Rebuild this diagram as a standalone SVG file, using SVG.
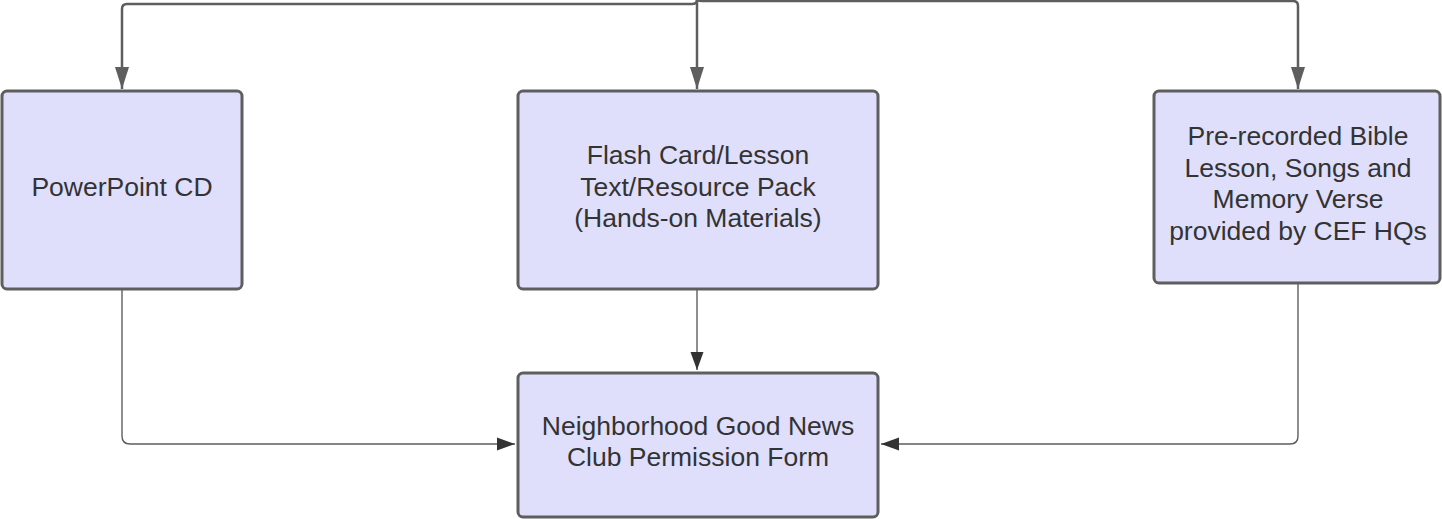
<svg xmlns="http://www.w3.org/2000/svg" width="1442" height="519" viewBox="0 0 1442 519">
<defs>
<style>
.box{fill:#dfdffc;stroke:#5e5e5e;stroke-width:3}
.lbl{font-family:"Liberation Sans",Arial,sans-serif;font-size:26.5px;fill:#333333;text-anchor:middle}
.thick{fill:none;stroke:#5e5e5e;stroke-width:2.5}
.thin{fill:none;stroke:#5e5e5e;stroke-width:1.4}
</style>
<marker id="ah1" markerUnits="userSpaceOnUse" viewBox="0 0 22 16" refX="22" refY="8" markerWidth="22" markerHeight="16" orient="auto"><path d="M0,1 L22,8 L0,15 Z" fill="#5e5e5e"/></marker>
<marker id="ah2" markerUnits="userSpaceOnUse" viewBox="0 0 18 14" refX="18" refY="7" markerWidth="18" markerHeight="14" orient="auto"><path d="M0,0.5 L18,7 L0,13.5 Z" fill="#333333"/></marker>
</defs>
<rect width="1442" height="519" fill="#ffffff"/>
<g id="connectors">
<path class="thick" d="M697,0 Q697,4 692,4 L127,4 Q122,4 122,9 L122,89" marker-end="url(#ah1)"/>
<path class="thick" d="M697,0 L697,89" marker-end="url(#ah1)"/>
<path class="thick" d="M697,0 Q697,1 702,1 L1293,1 Q1298,1 1298,6 L1298,89" marker-end="url(#ah1)"/>
<path class="thin" d="M122,289 L122,436 Q122,444 130,444 L515,444" marker-end="url(#ah2)"/>
<path class="thin" d="M697,289 L697,370" marker-end="url(#ah2)"/>
<path class="thin" d="M1298,283 L1298,436 Q1298,444 1290,444 L881,444" marker-end="url(#ah2)"/>
</g>
<g id="node-powerpoint">
<rect class="box" x="2" y="91" width="240" height="198" rx="5"/>
<text class="lbl" x="122" y="196">PowerPoint CD</text>
</g>
<g id="node-flashcard">
<rect class="box" x="518" y="91" width="360" height="198" rx="5"/>
<text class="lbl" x="698" y="164">Flash Card/Lesson</text>
<text class="lbl" x="698" y="195.5">Text/Resource Pack</text>
<text class="lbl" x="698" y="227">(Hands-on Materials)</text>
</g>
<g id="node-prerecorded">
<rect class="box" x="1154" y="91" width="286" height="192" rx="5"/>
<text class="lbl" x="1298" y="145">Pre-recorded Bible</text>
<text class="lbl" x="1298" y="176.5">Lesson, Songs and</text>
<text class="lbl" x="1298" y="208">Memory Verse</text>
<text class="lbl" x="1298" y="239.5">provided by CEF HQs</text>
</g>
<g id="node-permission">
<rect class="box" x="518" y="373" width="360" height="144" rx="5"/>
<text class="lbl" x="698" y="434.5">Neighborhood Good News</text>
<text class="lbl" x="698" y="466">Club Permission Form</text>
</g>
</svg>
